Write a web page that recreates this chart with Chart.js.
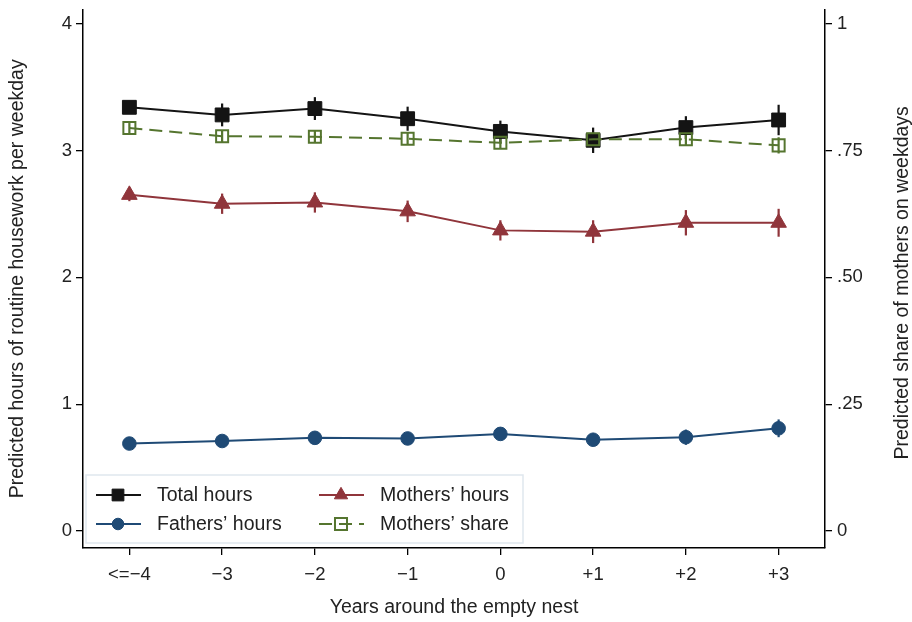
<!DOCTYPE html>
<html>
<head>
<meta charset="utf-8">
<script src="https://cdn.jsdelivr.net/npm/chart.js@4/dist/chart.umd.min.js"></script>
<style>
  html, body { margin: 0; padding: 0; background: #fff; }
  #wrap { width: 912px; height: 622px; }
</style>
</head>
<body>
<div id="wrap"><canvas id="chart" width="912" height="622"></canvas></div>
<script>
// Years around the empty nest
const years = ["<=\u22124", "\u22123", "\u22122", "\u22121", "0", "+1", "+2", "+3"];

// Predicted hours (left axis) and confidence half-widths
const totalHours = [3.34, 3.28, 3.33, 3.25, 3.15, 3.08, 3.18, 3.24];
const totalErr = [0.05, 0.09, 0.09, 0.095, 0.085, 0.1, 0.09, 0.12];
const fathersHours = [0.69, 0.71, 0.735, 0.73, 0.766, 0.72, 0.74, 0.81];
const fathersErr = [0.03, 0.035, 0.035, 0.035, 0.04, 0.05, 0.06, 0.07];
const mothersHours = [2.65, 2.58, 2.59, 2.52, 2.37, 2.36, 2.43, 2.43];
const mothersErr = [0.05, 0.08, 0.08, 0.085, 0.08, 0.09, 0.1, 0.11];

// Predicted share of mothers (right axis)
const mothersShare = [0.794, 0.778, 0.777, 0.773, 0.765, 0.772, 0.772, 0.76];
const shareErr = [0.01, 0.012, 0.012, 0.012, 0.012, 0.013, 0.012, 0.016];

// Tick labels
const hourTicks = [0, 1, 2, 3, 4];
const shareTicks = [0, 0.25, 0.5, 0.75, 1];
const shareTickLabels = ["0", ".25", ".50", ".75", "1"];

const FONT = "'Liberation Sans', Arial, Helvetica, sans-serif";
const TEXT = "#222";

const colors = {
  total: "#141414",
  fathers: "#1f4a75",
  mothers: "#90353b",
  share: "#55752f",
};

// vertical error bars behind the markers
const errorBars = {
  id: "errorBars",
  beforeDatasetsDraw(chart) {
    const ctx = chart.ctx;
    chart.data.datasets.forEach((ds, i) => {
      if (!ds.err) return;
      const meta = chart.getDatasetMeta(i);
      const yScale = chart.scales[ds.yAxisID];
      ctx.save();
      ctx.strokeStyle = ds.borderColor;
      ctx.lineWidth = 2.2;
      meta.data.forEach((pt, j) => {
        const v = ds.data[j];
        const e = ds.err[j];
        ctx.beginPath();
        ctx.moveTo(pt.x, yScale.getPixelForValue(v + e));
        ctx.lineTo(pt.x, yScale.getPixelForValue(v - e));
        ctx.stroke();
      });
      ctx.restore();
    });
  },
};

// legend box inside the plot plus the right axis title
const extras = {
  id: "extras",
  afterDraw(chart) {
    const ctx = chart.ctx;
    const area = chart.chartArea;
    ctx.save();

    // right axis title, reading bottom to top
    ctx.fillStyle = TEXT;
    ctx.font = "19.5px " + FONT;
    ctx.textAlign = "center";
    ctx.textBaseline = "middle";
    ctx.translate(903, (area.top + area.bottom) / 2 + 4);
    ctx.rotate(-Math.PI / 2);
    ctx.fillText("Predicted share of mothers on weekdays", 0, 0);
    ctx.restore();

    // legend
    ctx.save();
    ctx.fillStyle = "#fff";
    ctx.strokeStyle = "#dfe7ee";
    ctx.lineWidth = 1.5;
    ctx.fillRect(86, 475, 437, 68);
    ctx.strokeRect(86, 475, 437, 68);

    const items = [
      { ds: chart.data.datasets[0], x: 96, y: 495 },
      { ds: chart.data.datasets[2], x: 319, y: 495 },
      { ds: chart.data.datasets[1], x: 96, y: 524 },
      { ds: chart.data.datasets[3], x: 319, y: 524 },
    ];
    items.forEach((it) => {
      const ds = it.ds;
      ctx.save();
      ctx.strokeStyle = ds.borderColor;
      ctx.lineWidth = 2;
      if (ds.borderDash) ctx.setLineDash(ds.borderDash);
      ctx.beginPath();
      ctx.moveTo(it.x, it.y);
      ctx.lineTo(it.x + 45, it.y);
      ctx.stroke();
      ctx.restore();

      ctx.save();
      ctx.fillStyle = ds.pointBackgroundColor;
      ctx.strokeStyle = ds.borderColor;
      ctx.lineWidth = ds.pointBorderWidth;
      Chart.helpers.drawPoint(ctx, {
        pointStyle: ds.pointStyle,
        radius: ds.pointRadius * (ds.borderDash ? 1 : 0.85),
        rotation: 0,
        borderWidth: ds.pointBorderWidth,
      }, it.x + 22, it.y);
      ctx.restore();

      ctx.fillStyle = TEXT;
      ctx.font = "19.5px " + FONT;
      ctx.textAlign = "left";
      ctx.textBaseline = "middle";
      ctx.fillText(ds.label, it.x + 61, it.y + 1);
    });
    ctx.restore();
  },
};

new Chart(document.getElementById("chart"), {
  type: "line",
  data: {
    labels: years,
    datasets: [
      {
        label: "Total hours",
        data: totalHours,
        err: totalErr,
        yAxisID: "y",
        borderColor: colors.total,
        backgroundColor: colors.total,
        pointBackgroundColor: colors.total,
        pointStyle: "rect",
        pointRadius: 9.8,
        pointBorderWidth: 1,
        borderWidth: 2,
        order: 2,
      },
      {
        label: "Fathers\u2019 hours",
        data: fathersHours,
        err: fathersErr,
        yAxisID: "y",
        borderColor: colors.fathers,
        backgroundColor: colors.fathers,
        pointBackgroundColor: colors.fathers,
        pointStyle: "circle",
        pointRadius: 6.8,
        pointBorderWidth: 1,
        borderWidth: 2,
        order: 3,
      },
      {
        label: "Mothers\u2019 hours",
        data: mothersHours,
        err: mothersErr,
        yAxisID: "y",
        borderColor: colors.mothers,
        backgroundColor: colors.mothers,
        pointBackgroundColor: colors.mothers,
        pointStyle: "triangle",
        pointRadius: 9,
        pointBorderWidth: 1,
        borderWidth: 2,
        order: 1,
      },
      {
        label: "Mothers\u2019 share",
        data: mothersShare,
        err: shareErr,
        yAxisID: "y1",
        borderColor: colors.share,
        backgroundColor: "rgba(0,0,0,0)",
        pointBackgroundColor: "rgba(0,0,0,0)",
        pointStyle: "rect",
        pointRadius: 8.5,
        pointBorderWidth: 2,
        borderWidth: 2,
        borderDash: [13, 7],
        order: 0,
      },
    ],
  },
  options: {
    responsive: false,
    devicePixelRatio: 1,
    animation: false,
    layout: { autoPadding: false, padding: { top: 4, left: 0, right: 0, bottom: 0 } },
    elements: { line: { tension: 0 } },
    plugins: {
      legend: { display: false },
      tooltip: { enabled: false },
    },
    scales: {
      x: {
        type: "category",
        offset: true,
        grid: {
          offset: false,
          drawOnChartArea: false,
          drawTicks: true,
          tickLength: 7,
          color: "#000",
          lineWidth: 1.3,
        },
        border: { display: true, color: "#000", width: 1.5 },
        ticks: {
          color: TEXT,
          font: { family: FONT, size: 18.5 },
          padding: 9,
          maxRotation: 0,
          autoSkip: false,
        },
        title: {
          display: true,
          text: "Years around the empty nest",
          color: TEXT,
          font: { family: FONT, size: 19.5 },
          padding: { top: 0, bottom: 3 },
        },
        afterFit(scale) { scale.height = 74; },
      },
      y: {
        position: "left",
        min: -0.1333,
        max: 4.1098,
        afterBuildTicks(scale) {
          scale.ticks = hourTicks.map((v) => ({ value: v }));
        },
        grid: {
          drawOnChartArea: false,
          tickLength: 7,
          color: "#000",
          lineWidth: 1.3,
        },
        border: { display: true, color: "#000", width: 1.5 },
        ticks: {
          color: TEXT,
          font: { family: FONT, size: 18.5, lineHeight: 0.5 },
          padding: 4,
        },
        title: {
          display: true,
          text: "Predicted hours of routine housework per weekday",
          color: TEXT,
          font: { family: FONT, size: 19.5 },
          padding: { top: 6, bottom: 0 },
        },
        afterFit(scale) { scale.width = 83; },
      },
      y1: {
        position: "right",
        min: -0.0333,
        max: 1.02745,
        afterBuildTicks(scale) {
          scale.ticks = shareTicks.map((v) => ({ value: v }));
        },
        grid: {
          drawOnChartArea: false,
          tickLength: 7,
          color: "#000",
          lineWidth: 1.3,
        },
        border: { display: true, color: "#000", width: 1.5 },
        ticks: {
          color: TEXT,
          font: { family: FONT, size: 18.5, lineHeight: 0.5 },
          padding: 5,
          callback: (v) => {
            const k = shareTicks.indexOf(v);
            return k >= 0 ? shareTickLabels[k] : "";
          },
        },
        afterFit(scale) { scale.width = 87; },
      },
    },
  },
  plugins: [errorBars, extras],
});
</script>
</body>
</html>
